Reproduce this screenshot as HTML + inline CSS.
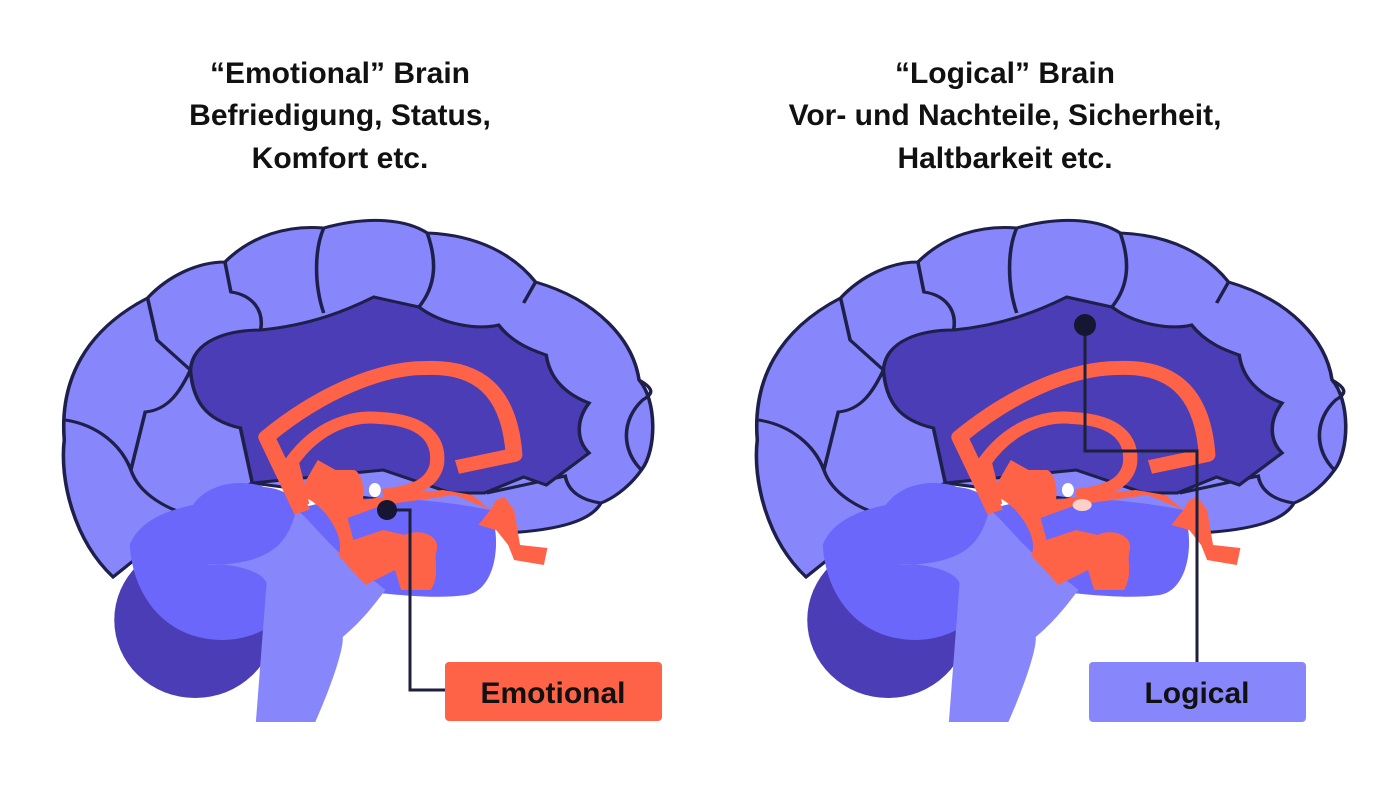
<!DOCTYPE html>
<html><head><meta charset="utf-8"><style>
html,body{margin:0;padding:0;background:#fff;}
svg{display:block;}
text{font-family:"Liberation Sans",sans-serif;font-weight:bold;fill:#111;}
</style></head><body>
<svg width="1376" height="806" viewBox="0 0 1376 806" xmlns="http://www.w3.org/2000/svg">
<defs>
<g id="brain">
  <path d="M103,577 C70,540 58,480 62,440 C58,380 80,330 132,298 C150,275 175,262 197,262 C220,235 250,225 280,228 C320,215 350,220 367,233 C410,235 440,255 458,282 C510,300 540,340 545,380 C560,400 560,450 547,470 C535,490 520,500 513,503 C505,520 480,530 433,533 L417,523 L397,523 L330,500 L220,483 L168,515 Z" fill="#8787fb" stroke="#1e1f4a" stroke-width="3"/>
  <g fill="none" stroke="#1e1f4a" stroke-width="3">
    <path d="M132,298 L140,340 L168,370"/>
    <path d="M197,262 L202,292 C220,295 230,310 227,330"/>
    <path d="M280,228 C272,250 272,285 280,313"/>
    <path d="M367,233 C375,260 375,285 360,307"/>
    <path d="M458,282 L448,303"/>
    <path d="M63,420 C90,425 110,445 118,470 C125,495 150,510 168,515"/>
    <path d="M118,470 L130,412 C150,410 160,390 168,370"/>
    <path d="M547,470 C530,450 530,420 548,400 C555,395 560,390 545,380"/>
    <path d="M513,503 C495,500 485,490 483,476 L417,493"/>
  </g>
  <path d="M168,370 C170,340 200,330 227,330 C270,325 300,310 322,297 L360,307 C380,325 410,330 427,325 C440,345 460,352 467,355 C470,380 485,395 503,403 C492,420 492,440 503,453 L467,485 L448,477 L415,493 L387,493 L330,470 L220,483 L210,428 C180,420 170,400 168,370 Z" fill="#4b3db5" stroke="#1e1f4a" stroke-width="3"/>
  <ellipse cx="172" cy="620" rx="68" ry="78" fill="#4b3db5"/>
  <path d="M117,545 C125,520 150,510 170,505 C185,480 215,480 230,487 C260,490 275,520 270,560 C265,610 230,640 195,640 C150,640 120,600 117,545 Z" fill="#6a67fa"/>
  <path d="M257,510 C300,490 380,500 420,510 C430,540 425,590 400,595 C370,600 330,593 300,590 Z" fill="#6a67fa"/>
  <path d="M180,565 C200,562 228,570 232,583 L223,722 L273,722 C285,690 297,650 296,637 C315,618 325,600 332,590 L300,560 C280,540 265,515 257,510 C250,540 240,565 180,565 Z" fill="#8787fb"/>
  <g fill="none" stroke="#ff6347" stroke-linejoin="round">
    <path d="M262,512 L232,437 C280,390 330,368 365,368 C420,365 437,405 440,455 L392,467" stroke-width="14"/>
    <path d="M262,505 L253,462 C275,425 305,415 327,418 C365,420 378,440 375,465 C370,490 345,492 330,495" stroke-width="12"/>
  </g>
  <path d="M258,495 C280,500 300,540 292,555 L315,585 L340,570 L345,590 L370,590 C378,575 372,560 375,550 C378,535 360,528 348,535 L330,530 L305,540 L300,518 L330,505 L390,495 L400,500 L420,510 L410,525 L425,530 L435,545 L440,560 L465,565 L468,548 L445,545 L440,510 L432,497 L425,500 L420,510 L405,495 L380,490 L340,495 L313,500 C315,485 310,470 305,470 L290,470 L275,460 Z" fill="#ff6347"/>
  <ellipse cx="323" cy="490" rx="5" ry="7" fill="#fff"/>
</g>
</defs>

<text x="340" y="83" font-size="30" text-anchor="middle">“Emotional” Brain</text>
<text x="340" y="125" font-size="30" text-anchor="middle">Befriedigung, Status,</text>
<text x="340" y="168" font-size="30" text-anchor="middle">Komfort etc.</text>

<text x="1005" y="83" font-size="30" text-anchor="middle">“Logical” Brain</text>
<text x="1005" y="125" font-size="30" text-anchor="middle">Vor- und Nachteile, Sicherheit,</text>
<text x="1005" y="168" font-size="30" text-anchor="middle">Haltbarkeit etc.</text>

<g transform="matrix(1.19,0,0,1,-9.5,0)"><use href="#brain"/></g>
<g transform="translate(693,0) matrix(1.19,0,0,1,-9.5,0)"><use href="#brain"/><ellipse cx="335" cy="505" rx="8" ry="6" fill="#ffd0c8"/></g>

<polyline points="387,510 410,510 410,690 445,690" fill="none" stroke="#1e1f3a" stroke-width="3"/>
<circle cx="387" cy="510" r="10" fill="#161632"/>
<rect x="445" y="662" width="217" height="59" rx="4" fill="#ff6347"/>
<text x="553" y="703" font-size="30" text-anchor="middle">Emotional</text>

<polyline points="1085,325 1085,451 1197,451 1197,662" fill="none" stroke="#1e1f3a" stroke-width="3"/>
<circle cx="1085" cy="325" r="11" fill="#161632"/>
<rect x="1089" y="662" width="217" height="60" rx="4" fill="#8787fb"/>
<text x="1197" y="703" font-size="30" text-anchor="middle">Logical</text>
</svg>
</body></html>
